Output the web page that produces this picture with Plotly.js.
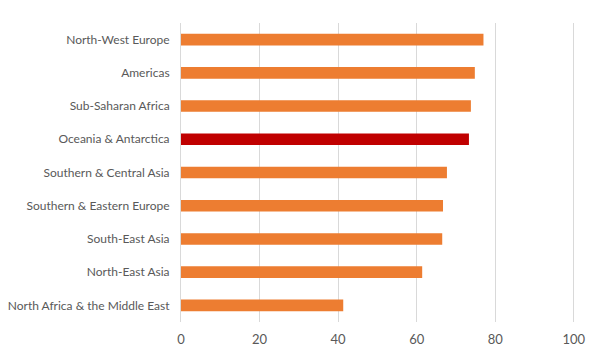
<!DOCTYPE html>
<html><head><meta charset="utf-8">
<script src="https://cdn.plot.ly/plotly-3.0.1.min.js"></script>
<style>html,body{margin:0;padding:0;background:#fff;}#chart{width:601px;height:355px;}</style>
</head><body><div id="chart"></div>
<script>
const categories = ["North-West Europe","Americas","Sub-Saharan Africa","Oceania & Antarctica","Southern & Central Asia","Southern & Eastern Europe","South-East Asia","North-East Asia","North Africa & the Middle East"];
const values = [77.0, 74.8, 73.8, 73.3, 67.7, 66.7, 66.5, 61.4, 41.3];
const highlight = "Oceania & Antarctica";
const xTicks = [0, 20, 40, 60, 80, 100];

const colors = categories.map(c => c === highlight ? "#C00000" : "#ED7D31");
Plotly.newPlot("chart", [{
  type: "bar", orientation: "h",
  y: categories, x: values,
  marker: {color: colors, line: {width: 0}},
  width: 0.35, hoverinfo: "x+y"
}], {
  width: 601, height: 355,
  margin: {l: 181, r: 26, t: 23, b: 33},
  paper_bgcolor: "#fff", plot_bgcolor: "#fff",
  font: {family: "Lato, 'Open Sans', sans-serif", size: 12, color: "#595959"},
  xaxis: {range: [0, 100.3], tickvals: xTicks, ticktext: xTicks.map(String), showgrid: true, gridcolor: "#D9D9D9", gridwidth: 1, zeroline: false, showline: false, ticks: "", ticklabelstandoff: 8, tickfont: {size: 13, color: "#595959"}, fixedrange: true},
  yaxis: {autorange: "reversed", categoryorder: "array", categoryarray: categories, showline: true, linecolor: "#D9D9D9", linewidth: 1, ticks: "", ticklabelstandoff: 8, showgrid: false, tickfont: {size: 12, color: "#595959"}, fixedrange: true},
  showlegend: false, bargap: 0.65
}, {displayModeBar: false, staticPlot: true});
</script></body></html>
